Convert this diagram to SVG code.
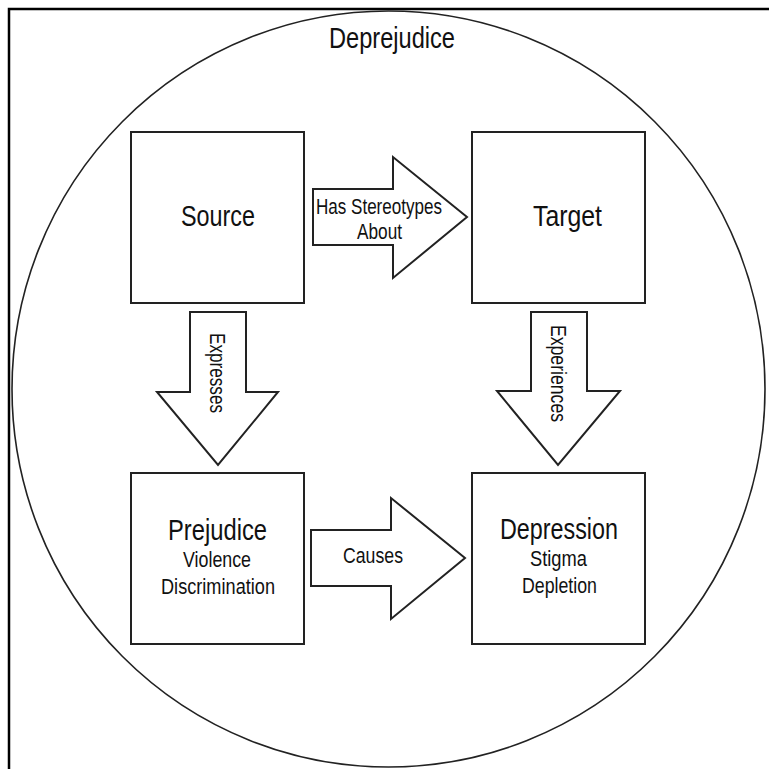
<svg xmlns="http://www.w3.org/2000/svg" width="769" height="769" viewBox="0 0 769 769">
<style>
.frame{stroke:#000;stroke-width:2.5;fill:none}
.outline{fill:#fff;stroke:#222;stroke-width:2}
.circ{fill:none;stroke:#222;stroke-width:1.6}
text{font-family:"Liberation Sans Narrow","Liberation Sans",Arial,sans-serif;fill:#111;text-anchor:middle}
.big{font-size:30px}
.mid{font-size:22.5px}
</style>
<rect width="769" height="769" fill="#fff"/>
<path class="frame" d="M9 769 V9 H769"/>
<ellipse class="circ" cx="388.5" cy="389" rx="376.5" ry="378"/>
<text class="big" x="392" y="48" textLength="126" lengthAdjust="spacingAndGlyphs">Deprejudice</text>
<g id="source">
<rect class="outline" x="131" y="132" width="173" height="171"/>
<text class="big" x="218" y="226" textLength="74" lengthAdjust="spacingAndGlyphs">Source</text>
</g>
<g id="target">
<rect class="outline" x="472" y="132" width="173" height="171"/>
<text class="big" x="567.5" y="226" textLength="69" lengthAdjust="spacingAndGlyphs">Target</text>
</g>
<g id="prejudice">
<rect class="outline" x="131" y="473" width="173" height="171"/>
<text class="big" x="217.5" y="540" textLength="99" lengthAdjust="spacingAndGlyphs">Prejudice</text>
<text class="mid" x="217" y="567" textLength="68" lengthAdjust="spacingAndGlyphs">Violence</text>
<text class="mid" x="218" y="594" textLength="114" lengthAdjust="spacingAndGlyphs">Discrimination</text>
</g>
<g id="depression">
<rect class="outline" x="472" y="473" width="173" height="171"/>
<text class="big" x="559" y="539" textLength="118" lengthAdjust="spacingAndGlyphs">Depression</text>
<text class="mid" x="558.5" y="566" textLength="57" lengthAdjust="spacingAndGlyphs">Stigma</text>
<text class="mid" x="559.5" y="593" textLength="75" lengthAdjust="spacingAndGlyphs">Depletion</text>
</g>
<g id="connectors">
<g id="has-stereotypes">
<path class="outline" d="M313 189 H393 V157 L467 217 L393 278 V245 H313 Z"/>
<text class="mid" x="379" y="214" textLength="126" lengthAdjust="spacingAndGlyphs">Has Stereotypes</text>
<text class="mid" x="379.5" y="239" textLength="45" lengthAdjust="spacingAndGlyphs">About</text>
</g>
<g id="expresses">
<path class="outline" d="M190 312 H246 V392 H278 L218 465 L157 392 H190 Z"/>
<text class="mid" transform="translate(210 373) rotate(90)" x="0" y="0" textLength="80" lengthAdjust="spacingAndGlyphs">Expresses</text>
</g>
<g id="experiences">
<path class="outline" d="M531 312 H587 V391 H620 L558 465 L497 391 H531 Z"/>
<text class="mid" transform="translate(551 373.5) rotate(90)" x="0" y="0" textLength="97" lengthAdjust="spacingAndGlyphs">Experiences</text>
</g>
<g id="causes">
<path class="outline" d="M311 530 H391 V498 L465 558 L391 619 V586 H311 Z"/>
<text class="mid" x="373" y="563" textLength="60" lengthAdjust="spacingAndGlyphs">Causes</text>
</g>
</g>
</svg>
